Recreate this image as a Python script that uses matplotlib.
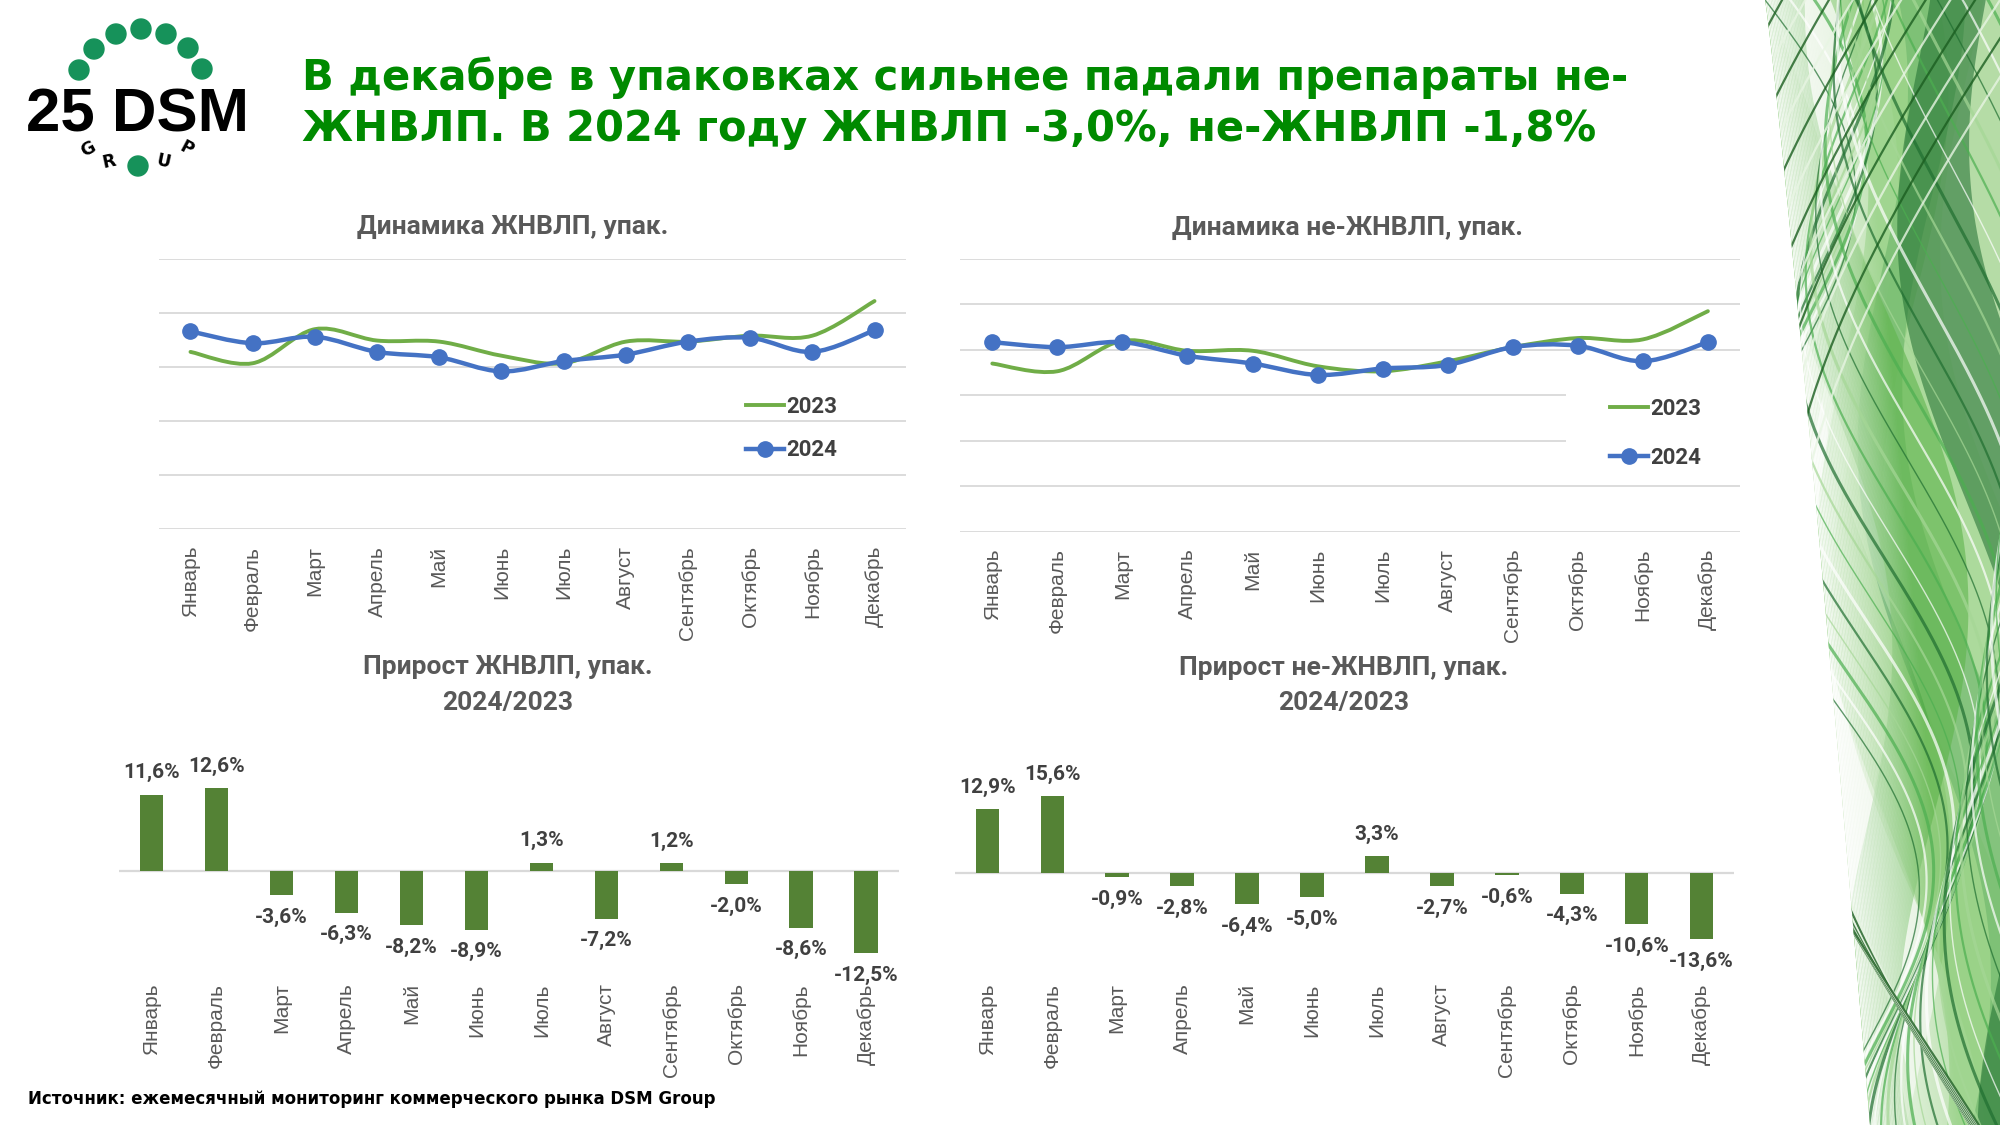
import numpy as np
import matplotlib
matplotlib.use("Agg")
import matplotlib.pyplot as plt
from matplotlib.path import Path
from matplotlib.patches import PathPatch, Circle, Rectangle, Polygon
from matplotlib.lines import Line2D

# ---- data (line values in relative units, no axis scale shown) ----
months = ['Январь', 'Февраль', 'Март', 'Апрель', 'Май', 'Июнь', 'Июль',
          'Август', 'Сентябрь', 'Октябрь', 'Ноябрь', 'Декабрь']
ed_2023 = [328, 307, 370, 349, 347, 321, 307, 347, 347, 358, 358, 422]
ed_2024 = [366, 344, 356, 328, 318, 292, 311, 323, 347, 354, 328, 368]
ned_2023 = [370, 353, 420, 398, 398, 364, 353, 375, 406, 426, 423, 485]
ned_2024 = [417, 406, 417, 387, 370, 345, 359, 367, 406, 409, 375, 417]
ed_growth = [11.6, 12.6, -3.6, -6.3, -8.2, -8.9, 1.3, -7.2, 1.2, -2.0, -8.6, -12.5]
ned_growth = [12.9, 15.6, -0.9, -2.8, -6.4, -5.0, 3.3, -2.7, -0.6, -4.3, -10.6, -13.6]

GREEN_LINE = '#70AD47'
BLUE_LINE = '#4472C4'
BAR = '#548235'
GRID = '#D9D9D9'
GRAY = '#595959'
DARK = '#404040'
TITLE_GREEN = '#008A00'
CH_FONT = ['Roboto', 'DejaVu Sans']
TICK_FONT = ['Liberation Sans', 'DejaVu Sans']

fig = plt.figure(figsize=(20, 11.25), dpi=100)
fig.patch.set_facecolor('white')


def smooth_path(xs, ys):
    # excel-like smoothed line as cubic bezier through the points
    pts = np.column_stack([xs, ys]).astype(float)
    n = len(pts)
    verts = [pts[0]]
    codes = [Path.MOVETO]
    for i in range(n - 1):
        p0 = pts[i - 1] if i > 0 else pts[i]
        p1, p2 = pts[i], pts[i + 1]
        p3 = pts[i + 2] if i + 2 < n else pts[i + 1]
        verts += [p1 + (p2 - p0) / 6, p2 - (p3 - p1) / 6, p2]
        codes += [Path.CURVE4] * 3
    return Path(verts, codes)


def line_chart(rect, y23, y24, ymax, leg_x, leg_y, spacing, legend_bg=None):
    ax = fig.add_axes(rect)
    x = np.arange(len(months))
    ax.add_patch(PathPatch(smooth_path(x, y23), fill=False, edgecolor=GREEN_LINE,
                           lw=2.8, capstyle='round', zorder=3))
    ax.add_patch(PathPatch(smooth_path(x, y24), fill=False, edgecolor=BLUE_LINE,
                           lw=3.2, capstyle='round', zorder=4))
    ax.plot(x, y24, 'o', color=BLUE_LINE, ms=11, zorder=5)
    ax.set_xlim(-0.5, len(months) - 0.5)
    ax.set_ylim(0, ymax)
    ax.set_yticks(np.arange(0, ymax + 1, 100))
    ax.set_yticklabels([])
    ax.yaxis.grid(True, color=GRID, lw=1.3)
    ax.set_axisbelow(True)
    ax.tick_params(axis='y', length=0)
    ax.set_xticks(x)
    ax.set_xticklabels(months, rotation=90, fontsize=15, color=GRAY, family=TICK_FONT)
    ax.tick_params(axis='x', length=0, pad=12)
    for s in ax.spines.values():
        s.set_visible(False)
    if legend_bg is not None:
        ax.add_patch(Rectangle((legend_bg[0], legend_bg[1]), legend_bg[2], legend_bg[3],
                               transform=ax.transAxes, facecolor='white',
                               edgecolor='none', zorder=1))
    handles = [Line2D([], [], color=GREEN_LINE, lw=2.8),
               Line2D([], [], color=BLUE_LINE, lw=3.2, marker='o', ms=11)]
    ax.legend(handles, ['2023', '2024'], loc='center left', bbox_to_anchor=(leg_x, leg_y),
              frameon=False, borderpad=0, borderaxespad=0, handlelength=1.7,
              handletextpad=0.1, labelspacing=spacing,
              prop={'family': CH_FONT, 'weight': 'bold', 'size': 16}, labelcolor=DARK)
    return ax


def bar_chart(rect, vals, ylim):
    ax = fig.add_axes(rect)
    x = np.arange(len(months))
    ax.bar(x, vals, width=0.36, color=BAR, zorder=3)
    ax.axhline(0, color=GRID, lw=1.6, zorder=2)
    for i, v in enumerate(vals):
        txt = f"{v:.1f}%".replace('.', ',')
        ax.annotate(txt, (i, v), xytext=(0, 16 if v >= 0 else -16), textcoords='offset points',
                    ha='center', va='center', fontsize=15, fontweight='bold', color=DARK,
                    family=CH_FONT, zorder=4)
    ax.set_xlim(-0.5, len(months) - 0.5)
    ax.set_ylim(*ylim)
    ax.set_yticks([])
    ax.set_xticks(x)
    ax.set_xticklabels(months, rotation=90, fontsize=15, color=GRAY, family=TICK_FONT)
    ax.tick_params(axis='x', length=0, pad=10)
    for s in ax.spines.values():
        s.set_visible(False)
    return ax


# ---- background decoration on the right and logo ----
bg = fig.add_axes([0, 0, 1, 1], zorder=-10)
bg.set_xlim(0, 2000)
bg.set_ylim(1125, 0)
bg.axis('off')

yy = np.linspace(0, 1125, 400)
xb = 1765 + 105 * (yy / 1125) ** 0.9
shape = Polygon(np.vstack([np.column_stack([xb, yy]), [[2000, 1125], [2000, 0]]]),
                closed=True, facecolor='#b5dca6', edgecolor='none')
bg.add_patch(shape)
bands = [('#e9f4e4', 0, 60, 0.0, 0.9), ('#7cc567', 40, 120, 0.6, 0.7),
         ('#2f8f3c', 90, 150, 1.3, 0.65), ('#a6d995', 60, 200, 2.1, 0.55),
         ('#1f6e30', 150, 240, 2.8, 0.55), ('#5fb54c', 20, 90, 3.6, 0.6)]
for col, o1, o2, ph, al in bands:
    a = xb + o1 + 45 * np.sin(2 * np.pi * yy / 900 + ph)
    b = xb + o2 + 55 * np.sin(2 * np.pi * yy / 1000 + ph + 0.7)
    f = bg.fill_betweenx(yy, a, b, color=col, alpha=al, lw=0)
    f.set_clip_path(shape)
for k in range(36):
    col = ['#1f6e30', '#ffffff', '#4caf50', '#a5d796'][k % 4]
    xk = xb + 8 * k + 70 * np.sin(2 * np.pi * yy / (700 + 15 * k) + 0.25 * k)
    ln, = bg.plot(xk, yy, color=col, lw=1.0 + (k % 3) * 0.6, alpha=0.7)
    ln.set_clip_path(shape)
for k in range(12):
    xk = 2050 - 12 * k - 260 * np.sin(np.pi * (yy / 1125) * 0.9 + 0.05 * k)
    ln, = bg.plot(xk, yy, color='#1b5e20' if k % 2 else '#e8f5e3', lw=1.6, alpha=0.8)
    ln.set_clip_path(shape)
fade = np.linspace(0, 1, 60)
for i, t in enumerate(fade):
    f = bg.fill_betweenx(yy, xb + i * 1.5, xb + i * 1.5 + 1.6, color='white',
                         alpha=(1 - t) * 0.9, lw=0)
    f.set_clip_path(shape)

# logo
dot_col = '#16925A'
for cx, cy in [(79, 70), (94, 49), (116, 34), (141, 29), (166, 34), (188, 48), (202, 69), (138, 166)]:
    bg.add_patch(Circle((cx, cy), 10, color=dot_col))
bg.text(137, 132, '25 DSM', ha='center', va='baseline', fontsize=44.5, fontweight='bold',
        family=['Liberation Sans', 'DejaVu Sans'], color='black')
for ch, lx, ly, rot in [('G', 88, 149, 28), ('R', 109, 162, 12), ('U', 163, 162, -12), ('P', 186, 149, -28)]:
    bg.text(lx, ly, ch, ha='center', va='center', fontsize=12.5, fontweight='bold',
            rotation=rot, color='black', family=['DejaVu Sans'])

# ---- title ----
fig.text(302 / 2000, 1 - 78 / 1125, 'В декабре в упаковках сильнее падали препараты не-',
         ha='left', va='center', fontsize=30, fontweight='bold', color=TITLE_GREEN,
         family=['DejaVu Sans'])
fig.text(302 / 2000, 1 - 129 / 1125, 'ЖНВЛП. В 2024 году ЖНВЛП -3,0%, не-ЖНВЛП -1,8%',
         ha='left', va='center', fontsize=30, fontweight='bold', color=TITLE_GREEN,
         family=['DejaVu Sans'])

# ---- charts ----
line_chart([0.0797, 0.5295, 0.3731, 0.2404], ed_2023, ed_2024, 500, 0.786, 0.372, 0.97)
line_chart([0.4799, 0.5272, 0.3903, 0.2427], ned_2023, ned_2024, 600, 0.833, 0.36, 1.2,
           legend_bg=(0.777, 0.197, 0.223, 0.396))
bar_chart([0.0596, 0.1383, 0.3897, 0.1927], ed_growth, (-14.95, 18.06))
bar_chart([0.4774, 0.1383, 0.3897, 0.1927], ned_growth, (-19.8, 24.5))

title_kw = dict(ha='center', va='center', fontsize=19, fontweight='bold', color=GRAY, family=CH_FONT)
fig.text(512.8 / 2000, 1 - 227 / 1125, 'Динамика ЖНВЛП, упак.', **title_kw)
fig.text(1348 / 2000, 1 - 228 / 1125, 'Динамика не-ЖНВЛП, упак.', **title_kw)
fig.text(507.6 / 2000, 1 - 667 / 1125, 'Прирост ЖНВЛП, упак.', **title_kw)
fig.text(507.6 / 2000, 1 - 703 / 1125, '2024/2023', **title_kw)
fig.text(1344 / 2000, 1 - 668 / 1125, 'Прирост не-ЖНВЛП, упак.', **title_kw)
fig.text(1344 / 2000, 1 - 703 / 1125, '2024/2023', **title_kw)

fig.text(28 / 2000, 1 - 1099 / 1125, 'Источник: ежемесячный мониторинг коммерческого рынка DSM Group',
         ha='left', va='center', fontsize=12, fontweight='bold', color='black', family=['DejaVu Sans'])

fig.savefig('out.png', dpi=100, facecolor='white')
